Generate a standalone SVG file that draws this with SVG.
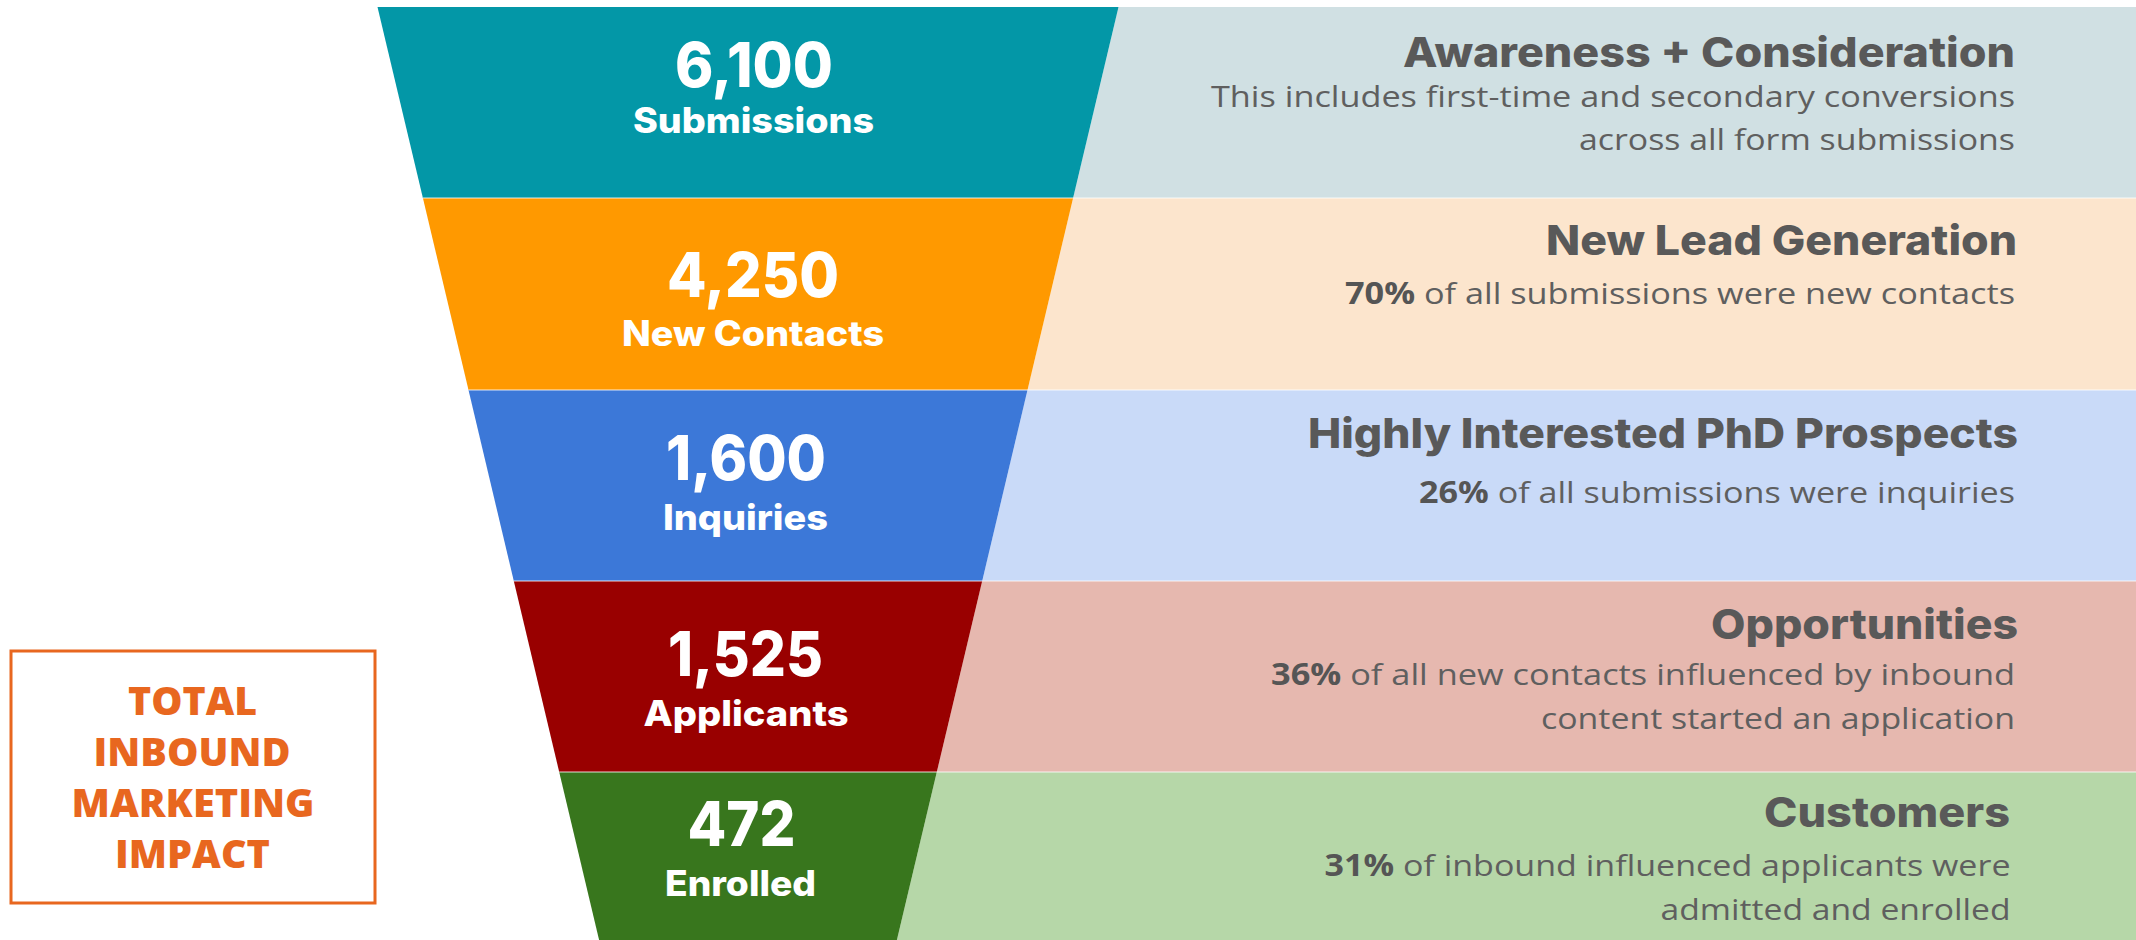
<svg xmlns="http://www.w3.org/2000/svg" width="2136" height="940" viewBox="0 0 2136 940">
<style>
.num{font-family:Inter,"Open Sans",sans-serif;font-weight:800;font-size:62px;fill:#fff;text-anchor:middle}
.lbl{font-family:Inter,"Open Sans",sans-serif;font-weight:800;font-size:35px;fill:#fff;text-anchor:middle}
.ttl{font-family:Inter,"Open Sans",sans-serif;font-weight:800;font-size:41px;fill:#595959;text-anchor:end}
.body{font-family:"Open Sans","Liberation Sans",sans-serif;font-weight:400;font-size:30px;fill:#5f5f5f;text-anchor:end}
.b{font-weight:700;fill:#555555}
.box{fill:none;stroke:#E8671F;stroke-width:3}
.boxt{font-family:"Open Sans","Liberation Sans",sans-serif;font-weight:800;font-size:38px;fill:#E8671F;text-anchor:middle}
.sep{stroke:#ffffff;stroke-opacity:0.55;stroke-width:1.5}
</style>
<rect width="2136" height="940" fill="#ffffff"/>

<g id="stage-awareness">
<polygon points="1118.5,7 2136,7 2136,198 1073.1,198" fill="#D0E0E3"/>
<polygon points="377.5,7 1118.5,7 1073.1,198 422.9,198" fill="#0397A7"/>
<text class="num" x="754" y="87" textLength="158" lengthAdjust="spacingAndGlyphs">6,100</text>
<text class="lbl" x="753.5" y="133" textLength="241" lengthAdjust="spacingAndGlyphs">Submissions</text>
<text class="ttl" x="2015" y="67" textLength="612" lengthAdjust="spacingAndGlyphs">Awareness + Consideration</text>
<text class="body" x="2015" y="107" textLength="804" lengthAdjust="spacingAndGlyphs">This includes first-time and secondary conversions</text>
<text class="body" x="2015" y="150" textLength="436" lengthAdjust="spacingAndGlyphs">across all form submissions</text>
</g>

<g id="stage-lead">
<polygon points="1073.1,198 2136,198 2136,390 1027.5,390" fill="#FCE5CD"/>
<polygon points="422.9,198 1073.1,198 1027.5,390 468.5,390" fill="#FF9900"/>
<text class="num" x="753" y="297" textLength="172" lengthAdjust="spacingAndGlyphs">4,250</text>
<text class="lbl" x="753" y="346" textLength="262" lengthAdjust="spacingAndGlyphs">New Contacts</text>
<text class="ttl" x="2017" y="255" textLength="471" lengthAdjust="spacingAndGlyphs">New Lead Generation</text>
<text class="body" x="2015" y="304" textLength="670" lengthAdjust="spacingAndGlyphs"><tspan class="b">70%</tspan> of all submissions were new contacts</text>
</g>

<g id="stage-inquiries">
<polygon points="1027.5,390 2136,390 2136,581 982.2,581" fill="#C9DAF8"/>
<polygon points="468.5,390 1027.5,390 982.2,581 513.8,581" fill="#3C78D8"/>
<text class="num" x="746" y="480" textLength="160" lengthAdjust="spacingAndGlyphs">1,600</text>
<text class="lbl" x="745.5" y="530" textLength="165" lengthAdjust="spacingAndGlyphs">Inquiries</text>
<text class="ttl" x="2018" y="448" textLength="710" lengthAdjust="spacingAndGlyphs">Highly Interested PhD Prospects</text>
<text class="body" x="2015" y="503" textLength="596" lengthAdjust="spacingAndGlyphs"><tspan class="b">26%</tspan> of all submissions were inquiries</text>
</g>

<g id="stage-applicants">
<polygon points="982.2,581 2136,581 2136,772 936.8,772" fill="#E6B8AF"/>
<polygon points="513.8,581 982.2,581 936.8,772 559.2,772" fill="#990000"/>
<text class="num" x="745.5" y="676" textLength="155" lengthAdjust="spacingAndGlyphs">1,525</text>
<text class="lbl" x="746" y="726" textLength="205" lengthAdjust="spacingAndGlyphs">Applicants</text>
<text class="ttl" x="2018" y="639" textLength="307" lengthAdjust="spacingAndGlyphs">Opportunities</text>
<text class="body" x="2015" y="685" textLength="744" lengthAdjust="spacingAndGlyphs"><tspan class="b">36%</tspan> of all new contacts influenced by inbound</text>
<text class="body" x="2015" y="729" textLength="474" lengthAdjust="spacingAndGlyphs">content started an application</text>
</g>

<g id="stage-enrolled">
<polygon points="936.8,772 2136,772 2136,940 896.9,940" fill="#B6D7A8"/>
<polygon points="559.2,772 936.8,772 896.9,940 599.1,940" fill="#38761D"/>
<text class="num" x="741.5" y="846" textLength="108" lengthAdjust="spacingAndGlyphs">472</text>
<text class="lbl" x="740.5" y="896" textLength="151" lengthAdjust="spacingAndGlyphs">Enrolled</text>
<text class="ttl" x="2010" y="827" textLength="246" lengthAdjust="spacingAndGlyphs">Customers</text>
<text class="body" x="2010.5" y="876" textLength="686" lengthAdjust="spacingAndGlyphs"><tspan class="b">31%</tspan> of inbound influenced applicants were</text>
<text class="body" x="2010.5" y="920" textLength="350" lengthAdjust="spacingAndGlyphs">admitted and enrolled</text>
</g>

<g id="separators">
<line class="sep" x1="422.9" y1="198" x2="2136" y2="198"/>
<line class="sep" x1="468.5" y1="390" x2="2136" y2="390"/>
<line class="sep" x1="513.8" y1="581" x2="2136" y2="581"/>
<line class="sep" x1="559.2" y1="772" x2="2136" y2="772"/>
</g>

<g id="total-impact">
<rect class="box" x="11" y="651" width="364" height="252"/>
<text class="boxt" x="192.5" y="715" textLength="129" lengthAdjust="spacingAndGlyphs">TOTAL</text>
<text class="boxt" x="192" y="766" textLength="197" lengthAdjust="spacingAndGlyphs">INBOUND</text>
<text class="boxt" x="193" y="817" textLength="243" lengthAdjust="spacingAndGlyphs">MARKETING</text>
<text class="boxt" x="192.5" y="868" textLength="155" lengthAdjust="spacingAndGlyphs">IMPACT</text>
</g>
</svg>
